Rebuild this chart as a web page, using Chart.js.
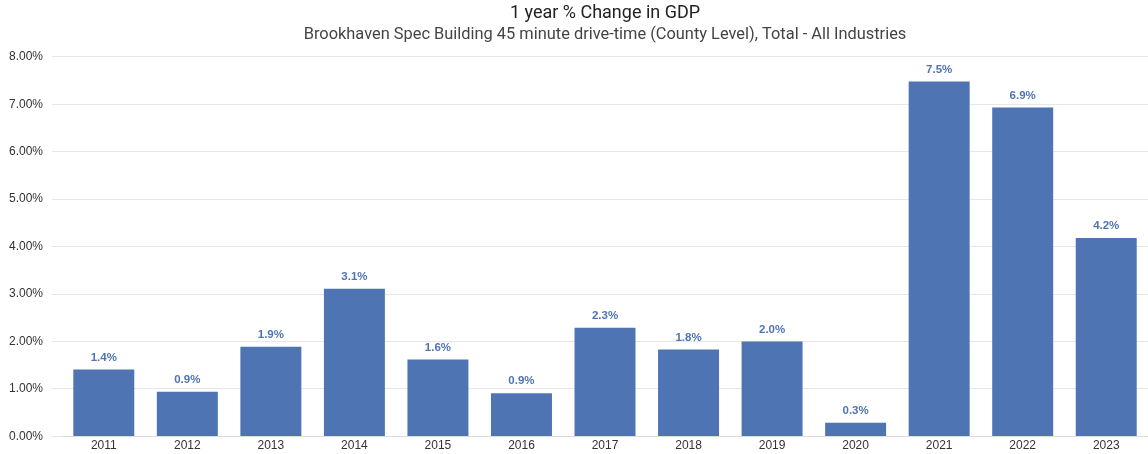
<!DOCTYPE html>
<html>
<head>
<meta charset="utf-8">
<script src="https://cdn.jsdelivr.net/npm/chart.js@4.4.1/dist/chart.umd.min.js"></script>
<style>
  body { margin: 0; background: #fff; }
  #wrap { width: 1148px; height: 454px; position: relative; }
</style>
</head>
<body>
<div id="wrap"><canvas id="canvas-chart"></canvas></div>
<script>
// Data
const years = ["2011", "2012", "2013", "2014", "2015", "2016", "2017", "2018", "2019", "2020", "2021", "2022", "2023"];
const gdpChange = [1.41, 0.94, 1.89, 3.11, 1.62, 0.91, 2.29, 1.83, 2.0, 0.29, 7.48, 6.93, 4.18];

const barColor = "#4f74b3";
const axisFont = "'Liberation Sans', Arial, sans-serif";

// Small plugin that writes the value above each bar
const barValueLabels = {
  id: "barValueLabels",
  afterDatasetsDraw(chart) {
    const ctx = chart.ctx;
    const meta = chart.getDatasetMeta(0);
    ctx.save();
    ctx.font = "bold 11.5px " + axisFont;
    ctx.fillStyle = "#4f74b3";
    ctx.textAlign = "center";
    ctx.textBaseline = "middle";
    meta.data.forEach((bar, i) => {
      ctx.fillText(gdpChange[i].toFixed(1) + "%", bar.x, bar.y - 12);
    });
    ctx.restore();
  },
};

new Chart(document.getElementById("canvas-chart"), {
  type: "bar",
  data: {
    labels: years,
    datasets: [
      {
        data: gdpChange,
        backgroundColor: barColor,
        barPercentage: 0.73,
        categoryPercentage: 1,
      },
    ],
  },
  options: {
    responsive: true,
    maintainAspectRatio: false,
    animation: false,
    layout: { padding: { left: 0, right: 0, top: 0, bottom: 0 } },
    scales: {
      x: {
        grid: { display: false, drawTicks: false },
        border: { display: true, color: "#dcdcdc" },
        ticks: {
          color: "#333",
          padding: 4,
          font: { family: axisFont, size: 12, lineHeight: 0.8 },
        },
      },
      y: {
        min: 0,
        max: 8,
        grid: { color: "#e6e6e6", drawTicks: true, tickLength: 10 },
        border: { display: false },
        ticks: {
          stepSize: 1,
          padding: 9,
          color: "#333",
          font: { family: axisFont, size: 12 },
          callback: (v) => v.toFixed(2) + "%",
        },
      },
    },
    plugins: {
      legend: { display: false },
      tooltip: { enabled: false },
      title: {
        display: true,
        fullSize: false,
        text: "1 year % Change in GDP",
        color: "#222",
        font: { family: "Roboto", size: 18, weight: "normal" },
        padding: { top: 3, bottom: 0.5 },
      },
      subtitle: {
        display: true,
        fullSize: false,
        text: "Brookhaven Spec Building 45 minute drive-time (County Level), Total - All Industries",
        color: "#444",
        font: { family: "Roboto", size: 16.4, weight: "normal" },
        padding: { top: 0, bottom: 12 },
      },
    },
  },
  plugins: [barValueLabels],
});
</script>
</body>
</html>
